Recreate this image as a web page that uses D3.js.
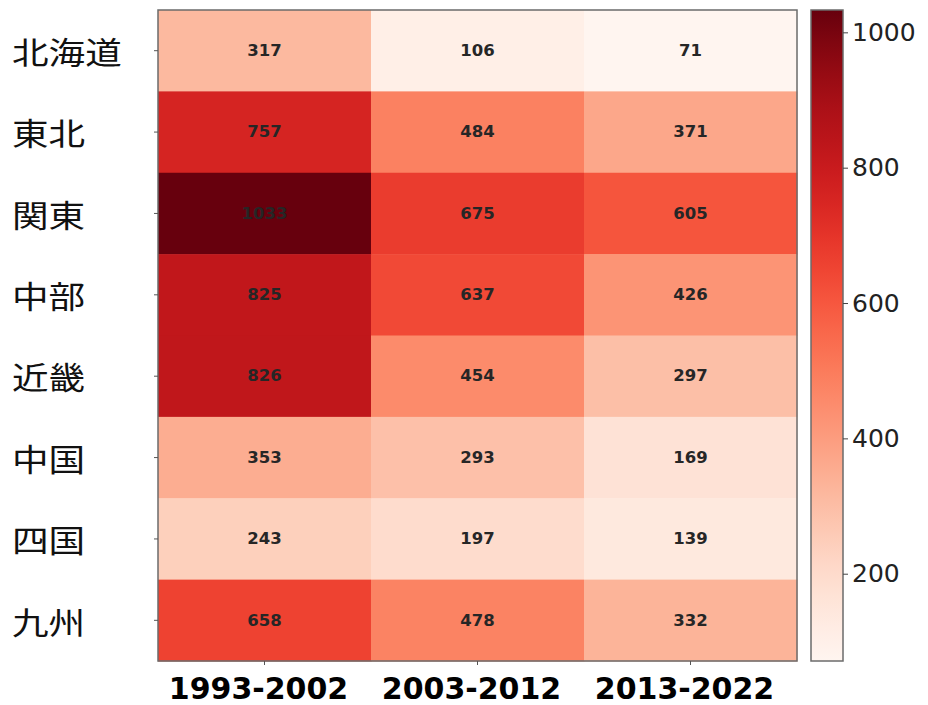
<!DOCTYPE html>
<html><head><meta charset="utf-8">
<script src="https://cdn.jsdelivr.net/npm/d3@7"></script>
<style>body{margin:0;background:#fff}</style>
</head><body>
<svg id="c" width="928" height="705"></svg>
<script>
const regions = ["北海道","東北","関東","中部","近畿","中国","四国","九州"];
const periods = ["1993-2002","2003-2012","2013-2022"];
const v1993 = [317,757,1033,825,826,353,243,658];
const v2003 = [106,484,675,637,454,293,197,478];
const v2013 = [71,371,605,426,297,169,139,332];
const cbTicks = [200,400,600,800,1000];

const series = [v1993, v2003, v2013];
const cells = [];
periods.forEach((p,i)=>regions.forEach((r,j)=>cells.push({p, r, v: series[i][j]})));
const all = series.flat();
const vmin = d3.min(all), vmax = d3.max(all);

const svg = d3.select("#c");
const L = 158, R = 797, T = 10, B = 661;
const x = d3.scaleBand().domain(periods).range([L,R]);
const y = d3.scaleBand().domain(regions).range([T,B]);
const color = d3.scaleSequential(d3.interpolateReds).domain([vmin,vmax]);

svg.append("g").selectAll("rect").data(cells).join("rect")
  .attr("x",d=>x(d.p)).attr("y",d=>y(d.r))
  .attr("width",x.bandwidth()+0.5).attr("height",y.bandwidth()+0.5)
  .attr("fill",d=>color(d.v));

svg.append("g").selectAll("text").data(cells).join("text")
  .attr("transform",d=>`translate(${x(d.p)+x.bandwidth()/2},${y(d.r)+y.bandwidth()/2}) scale(1.1,1)`)
  .attr("text-anchor","middle").attr("dominant-baseline","central")
  .attr("font-family","DejaVu Sans, sans-serif").attr("font-size",15).attr("font-weight",600)
  .attr("fill","#262626").text(d=>d.v);

svg.append("rect").attr("x",L).attr("y",T).attr("width",R-L).attr("height",B-T)
  .attr("fill","none").attr("stroke","#6b6b6b").attr("stroke-width",1.5);

// y axis
const ya = svg.append("g").attr("transform",`translate(${L},0)`)
  .call(d3.axisLeft(y).tickSize(4).tickPadding(0).tickFormat(""));
ya.select(".domain").remove();
ya.selectAll("line").attr("stroke","#555");
svg.append("g").selectAll("text").data(regions).join("text")
  .attr("transform",d=>`translate(12,${y(d)+y.bandwidth()/2}) scale(1.18,1)`)
  .attr("dominant-baseline","central")
  .attr("font-family","Noto Sans CJK JP, sans-serif").attr("font-size",31)
  .attr("fill","#111").text(d=>d);

// x axis
const xa = svg.append("g").attr("transform",`translate(0,${B})`)
  .call(d3.axisBottom(x).tickSize(4).tickPadding(0).tickFormat(""));
xa.select(".domain").remove();
xa.selectAll("line").attr("stroke","#555");
svg.append("g").selectAll("text").data(periods).join("text")
  .attr("x",d=>x(d)+x.bandwidth()/2 - 6).attr("y",699)
  .attr("text-anchor","middle")
  .attr("font-family","DejaVu Sans, sans-serif").attr("font-weight","bold").attr("font-size",30)
  .attr("fill","#000").text(d=>d);

// colorbar
const CL = 811, CR = 843;
const cy = d3.scaleLinear().domain([vmin,vmax]).range([B,T]);
const defs = svg.append("defs");
const grad = defs.append("linearGradient").attr("id","g").attr("x1",0).attr("y1",1).attr("x2",0).attr("y2",0);
d3.range(0,1.0001,0.05).forEach(t=>grad.append("stop").attr("offset",t).attr("stop-color",d3.interpolateReds(t)));
svg.append("rect").attr("x",CL).attr("y",T).attr("width",CR-CL).attr("height",B-T)
  .attr("fill","url(#g)").attr("stroke","#6b6b6b").attr("stroke-width",1.5);
const ca = svg.append("g").attr("transform",`translate(${CR},0)`)
  .call(d3.axisRight(cy).tickValues(cbTicks).tickFormat(d3.format("d")).tickSize(5).tickPadding(4));
ca.select(".domain").remove();
ca.selectAll("line").attr("stroke","#444");
ca.selectAll("text").attr("font-family","DejaVu Sans, sans-serif").attr("font-size",25).attr("fill","#222");
</script>
</body></html>
